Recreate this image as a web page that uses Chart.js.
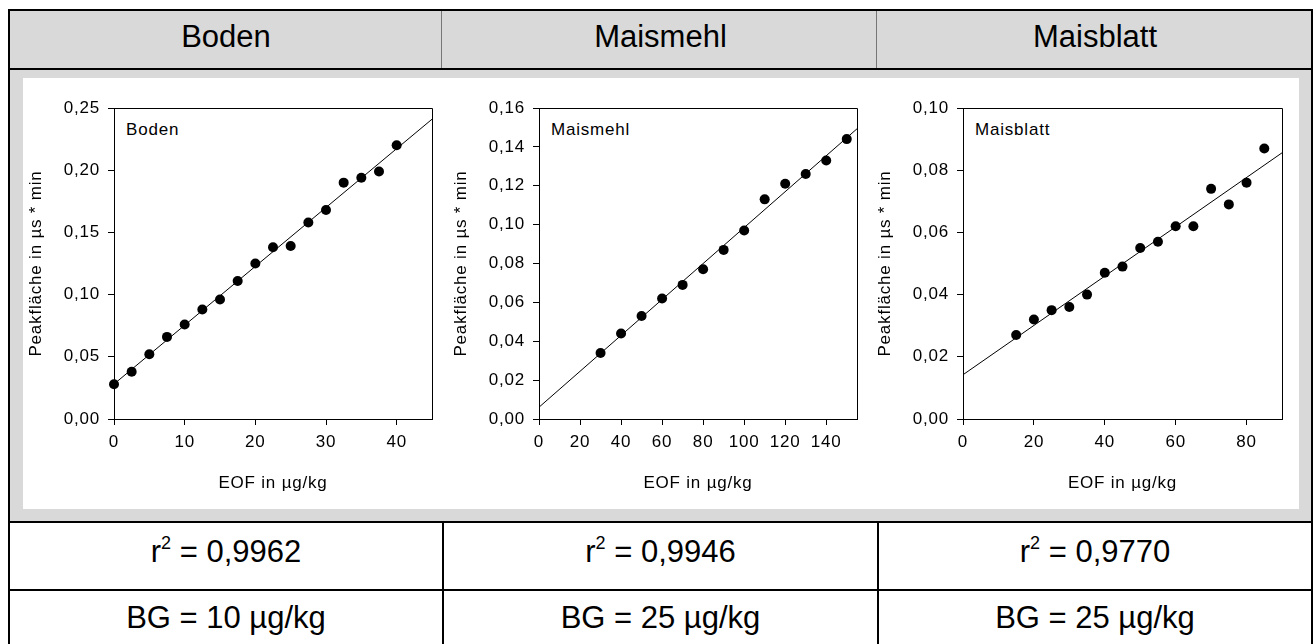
<!DOCTYPE html>
<html>
<head>
<meta charset="utf-8">
<script src="https://cdn.jsdelivr.net/npm/chart.js@4.4.1/dist/chart.umd.min.js"></script>
<style>
body { margin: 0; background: #fff; font-family: "Liberation Sans", Arial, sans-serif; }
#page { position: relative; width: 1316px; height: 644px; overflow: hidden; }
.box { position: absolute; }
.ln { position: absolute; background: #000; }
.cell { position: absolute; text-align: center; font-size: 31px; line-height: 40px; height: 40px; color: #000; white-space: nowrap; }
.cell sup { font-size: 18px; position: relative; top: -2px; line-height: 0; vertical-align: super; }
.inner { position: absolute; font-size: 17px; line-height: 20px; letter-spacing: 0.8px; color: #000; white-space: nowrap; }
canvas { position: absolute; }
</style>
</head>
<body>
<div id="page">
  <div class="box" style="left:10px;top:11px;width:1301px;height:57px;background:#d9d9d9"></div>
  <div class="box" style="left:10px;top:70px;width:1301px;height:451px;background:#d9d9d9"></div>
  <div class="box" style="left:23px;top:78px;width:1276px;height:431px;background:#fff"></div>

  <div class="ln" style="left:8px;top:9px;width:1305px;height:2px"></div>
  <div class="ln" style="left:8px;top:9px;width:2px;height:635px"></div>
  <div class="ln" style="left:1311px;top:9px;width:2px;height:635px"></div>
  <div class="ln" style="left:8px;top:68px;width:1305px;height:2px"></div>
  <div class="ln" style="left:8px;top:521px;width:1305px;height:2px"></div>
  <div class="ln" style="left:8px;top:589px;width:1305px;height:2px"></div>
  <div class="ln" style="left:441px;top:11px;width:1px;height:57px;background:#777"></div>
  <div class="ln" style="left:876px;top:11px;width:1px;height:57px;background:#777"></div>
  <div class="ln" style="left:442px;top:521px;width:2px;height:123px"></div>
  <div class="ln" style="left:877px;top:521px;width:2px;height:123px"></div>
</div>

<script>
// data
const samples = ["Boden", "Maismehl", "Maisblatt"];

const bodenX = [0, 2.5, 5, 7.5, 10, 12.5, 15, 17.5, 20, 22.5, 25, 27.5, 30, 32.5, 35, 37.5, 40];
const bodenY = [0.028, 0.038, 0.052, 0.066, 0.076, 0.088, 0.096, 0.111, 0.125, 0.138, 0.139, 0.158, 0.168, 0.190, 0.194, 0.199, 0.220];

const mehlX = [30, 40, 50, 60, 70, 80, 90, 100, 110, 120, 130, 140, 150];
const mehlY = [0.034, 0.044, 0.053, 0.062, 0.069, 0.077, 0.087, 0.097, 0.113, 0.121, 0.126, 0.133, 0.144];

const blattX = [15, 20, 25, 30, 35, 40, 45, 50, 55, 60, 65, 70, 75, 80, 85];
const blattY = [0.027, 0.032, 0.035, 0.036, 0.040, 0.047, 0.049, 0.055, 0.057, 0.062, 0.062, 0.074, 0.069, 0.076, 0.087];

const xMax = [45, 155, 90];
const xStep = [10, 20, 20];
const yMax = [0.25, 0.16, 0.10];
const yStep = [0.05, 0.02, 0.02];

const r2 = ["0,9962", "0,9946", "0,9770"];
const bg = ["10 µg/kg", "25 µg/kg", "25 µg/kg"];

const xTitle = "EOF in µg/kg";
const yTitle = "Peakfläche in µs * min";

const xs = [bodenX, mehlX, blattX];
const ys = [bodenY, mehlY, blattY];

// layout
const colLeft = [10, 444, 879];
const colWidth = [432, 433, 432];
const plotLeft = [114, 539, 963];
const plotWidth = [318, 318, 319];

const page = document.getElementById("page");

function addCell(i, top, html) {
    const d = document.createElement("div");
    d.className = "cell";
    d.style.left = colLeft[i] + "px";
    d.style.width = colWidth[i] + "px";
    d.style.top = top + "px";
    d.innerHTML = html;
    page.appendChild(d);
}

for (let i = 0; i < 3; i++) {
    addCell(i, 17, samples[i]);
    addCell(i, 532, "r<sup>2</sup> = " + r2[i]);
    addCell(i, 598, "BG = " + bg[i]);

    const lab = document.createElement("div");
    lab.className = "inner";
    lab.style.left = (plotLeft[i] + 12) + "px";
    lab.style.top = "120px";
    lab.textContent = samples[i];
    page.appendChild(lab);
}

function linearFit(x, y) {
    const n = x.length;
    const mx = x.reduce((a, b) => a + b, 0) / n;
    const my = y.reduce((a, b) => a + b, 0) / n;
    let sxy = 0, sxx = 0;
    for (let k = 0; k < n; k++) {
        sxy += (x[k] - mx) * (y[k] - my);
        sxx += (x[k] - mx) * (x[k] - mx);
    }
    const b = sxy / sxx;
    return { a: my - b * mx, b: b };
}

Chart.defaults.font.family = '"Liberation Sans", Arial, sans-serif';
Chart.defaults.font.size = 17;
Chart.defaults.color = "#000";

const spacing = {
    id: "spacing",
    beforeUpdate(chart) { chart.ctx.letterSpacing = "0.8px"; },
    beforeDraw(chart) { chart.ctx.letterSpacing = "0.8px"; }
};

const frame = {
    id: "frame",
    afterDraw(chart) {
        const a = chart.chartArea;
        const ctx = chart.ctx;
        ctx.save();
        ctx.strokeStyle = "#000";
        ctx.lineWidth = 1;
        ctx.beginPath();
        ctx.moveTo(Math.round(a.left) + 0.5, Math.round(a.top) + 0.5);
        ctx.lineTo(Math.round(a.right) + 0.5, Math.round(a.top) + 0.5);
        ctx.lineTo(Math.round(a.right) + 0.5, Math.round(a.bottom) + 0.5);
        ctx.stroke();
        ctx.restore();
    }
};

for (let i = 0; i < 3; i++) {
    const canvas = document.createElement("canvas");
    const w = plotWidth[i] + 100;
    canvas.width = w;
    canvas.height = 431;
    canvas.style.left = (plotLeft[i] - 90) + "px";
    canvas.style.top = "78px";
    canvas.style.width = w + "px";
    canvas.style.height = "431px";
    page.appendChild(canvas);

    const fit = linearFit(xs[i], ys[i]);
    const pts = xs[i].map((x, k) => ({ x: x, y: ys[i][k] }));
    const fitLine = [0, xMax[i]].map(x => ({ x: x, y: fit.a + fit.b * x }));

    new Chart(canvas.getContext("2d"), {
        type: "scatter",
        data: {
            datasets: [{
                data: pts,
                pointRadius: 5,
                pointHoverRadius: 5,
                pointBackgroundColor: "#000",
                pointBorderColor: "#000",
                pointBorderWidth: 0,
                clip: false
            }, {
                data: fitLine,
                showLine: true,
                pointRadius: 0,
                borderColor: "#000",
                borderWidth: 1
            }]
        },
        options: {
            responsive: false,
            animation: false,
            devicePixelRatio: 1,
            layout: { padding: { top: 30, right: 10, left: 0, bottom: 0 } },
            plugins: { legend: { display: false }, tooltip: { enabled: false } },
            scales: {
                x: {
                    type: "linear",
                    min: 0,
                    max: xMax[i],
                    afterFit: s => { s.height = 90; },
                    ticks: {
                        stepSize: xStep[i],
                        includeBounds: false,
                        autoSkip: false,
                        maxRotation: 0,
                        padding: 7.5,
                        color: "#000",
                        callback: v => String(v)
                    },
                    grid: { drawOnChartArea: false, tickLength: 6, tickColor: "#000", color: "#000" },
                    border: { color: "#000", width: 1 },
                    title: { display: true, text: xTitle, color: "#000", padding: { top: 0, bottom: 15.8 } }
                },
                y: {
                    type: "linear",
                    min: 0,
                    max: yMax[i],
                    afterFit: s => { s.width = 90; },
                    ticks: {
                        stepSize: yStep[i],
                        includeBounds: false,
                        padding: 8,
                        color: "#000",
                        callback: v => v.toFixed(2).replace(".", ",")
                    },
                    grid: { drawOnChartArea: false, tickLength: 6, tickColor: "#000", color: "#000" },
                    border: { color: "#000", width: 1 },
                    title: { display: true, text: yTitle, color: "#000", padding: { top: 1.8, bottom: 0 } }
                }
            }
        },
        plugins: [spacing, frame]
    });
}
</script>
</body>
</html>
